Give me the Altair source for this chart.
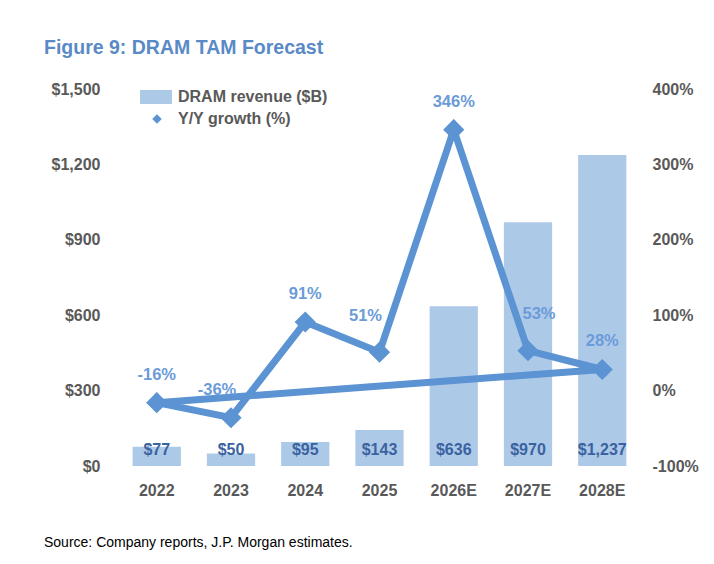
import altair as alt
import pandas as pd

years = ["2022", "2023", "2024", "2025", "2026E", "2027E", "2028E"]
revenue = [77, 50, 95, 143, 636, 970, 1237]
revenue_labels = ["$77", "$50", "$95", "$143", "$636", "$970", "$1,237"]
growth = [-16, -36, 91, 51, 346, 53, 28]
growth_labels = ["-16%", "-36%", "91%", "51%", "346%", "53%", "28%"]

# line path as drawn in the reference: it closes back to the first year
line_years = years + [years[0]]
line_growth = growth + [growth[0]]

FONT = "Liberation Sans"
GREY = "#595959"
BAR = "#adc9e8"
LINE = "#5b93d3"
DARK = "#3b62a0"
LBL = "#6b9bd8"
TITLE = "#5a8ac6"

bars_df = pd.DataFrame({"year": years, "rev": revenue, "lab": revenue_labels})
pts_df = pd.DataFrame({"year": years, "g": growth, "lab": growth_labels})
line_df = pd.DataFrame({"year": line_years, "g": line_growth, "ord": list(range(len(line_years)))})

xenc = alt.X("year:N", sort=years, title=None,
             scale=alt.Scale(paddingInner=0.35, paddingOuter=0.17),
             axis=alt.Axis(labelAngle=0, labelFont=FONT, labelFontSize=16, labelFontWeight="bold",
                           labelColor=GREY, domain=False, ticks=False, labelPadding=16))

yrev = alt.Y("rev:Q", title=None, scale=alt.Scale(domain=[0, 1500], nice=False),
             axis=alt.Axis(values=[0, 300, 600, 900, 1200, 1500], format="$,.0f", grid=False,
                           domain=False, ticks=False, labelFont=FONT, labelFontSize=16,
                           labelFontWeight="bold", labelColor=GREY, labelPadding=20))

bars = alt.Chart(bars_df).mark_bar(color=BAR).encode(x=xenc, y=yrev)
bar_text = alt.Chart(bars_df).mark_text(font=FONT, fontSize=16, fontWeight="bold", color=DARK,
                                        baseline="middle", dy=-16).encode(
    x=alt.X("year:N", sort=years), y=alt.datum(0), text="lab:N")

left = alt.layer(bars, bar_text)

yg_scale = alt.Scale(domain=[-100, 400], nice=False)
yg = alt.Y("g:Q", title=None, scale=yg_scale,
           axis=alt.Axis(orient="right", values=[-100, 0, 100, 200, 300, 400],
                         labelExpr="datum.value + '%'", grid=False, domain=False, ticks=False,
                         labelFont=FONT, labelFontSize=16, labelFontWeight="bold",
                         labelColor=GREY, labelPadding=13))

line = alt.Chart(line_df).mark_line(color=LINE, strokeWidth=7, strokeJoin="miter").encode(
    x=alt.X("year:N", sort=years), y=yg, order="ord:Q")
pts = alt.Chart(pts_df).mark_point(shape="diamond", filled=True, size=450, color=LINE, opacity=1).encode(
    x=alt.X("year:N", sort=years), y=alt.Y("g:Q", scale=yg_scale))


def growth_text(sel, dx, dy):
    return alt.Chart(pts_df).transform_filter(
        alt.FieldOneOfPredicate(field="year", oneOf=sel)
    ).mark_text(font=FONT, fontSize=16.5, fontWeight="bold", color=LBL, dx=dx, dy=dy).encode(
        x=alt.X("year:N", sort=years), y=alt.Y("g:Q", scale=yg_scale), text="lab:N")


pt_text_mid = growth_text(["2022", "2024", "2026E", "2028E"], 0, -28)
pt_text_l = growth_text(["2023"], -14, -28)
pt_text_l2 = growth_text(["2025"], -14, -36)
pt_text_r = growth_text(["2027E"], 11, -37)

right = alt.layer(line, pts, pt_text_mid, pt_text_l, pt_text_l2, pt_text_r)

one = pd.DataFrame({"k": [0]})
leg_rect = alt.Chart(one).mark_rect(color=BAR).encode(
    x=alt.value(20), x2=alt.value(52), y=alt.value(1), y2=alt.value(15))
leg_t1 = alt.Chart(one).mark_text(text="DRAM revenue ($B)", font=FONT, fontSize=16, fontWeight="bold",
                                  color=GREY, align="left", baseline="middle").encode(
    x=alt.value(58), y=alt.value(8))
leg_pt = alt.Chart(one).mark_point(shape="diamond", filled=True, size=90, color=LINE, opacity=1).encode(
    x=alt.value(37), y=alt.value(30))
leg_t2 = alt.Chart(one).mark_text(text="Y/Y growth (%)", font=FONT, fontSize=16, fontWeight="bold",
                                  color=GREY, align="left", baseline="middle").encode(
    x=alt.value(58), y=alt.value(30))
title_t = alt.Chart(one).mark_text(text="Figure 9: DRAM TAM Forecast", font=FONT, fontSize=19.5,
                                   fontWeight="bold", color=TITLE, align="left",
                                   baseline="alphabetic").encode(
    x=alt.value(-76), y=alt.value(-35))
src_t = alt.Chart(one).mark_text(text="Source: Company reports, J.P. Morgan estimates.", font=FONT,
                                 fontSize=14, color="#000000", align="left",
                                 baseline="alphabetic").encode(
    x=alt.value(-76), y=alt.value(458))

deco = alt.layer(leg_rect, leg_t1, leg_pt, leg_t2, title_t, src_t)

chart = alt.layer(left, right, deco).resolve_scale(y="independent").properties(
    width=519, height=377,
    background="white",
    autosize=alt.AutoSizeParams(type="none"),
    padding={"left": 112, "top": 81, "right": 67, "bottom": 90},
).configure_view(strokeWidth=0, stroke="transparent")

chart.save("out.html", embed_options={"renderer": "svg", "actions": False})
